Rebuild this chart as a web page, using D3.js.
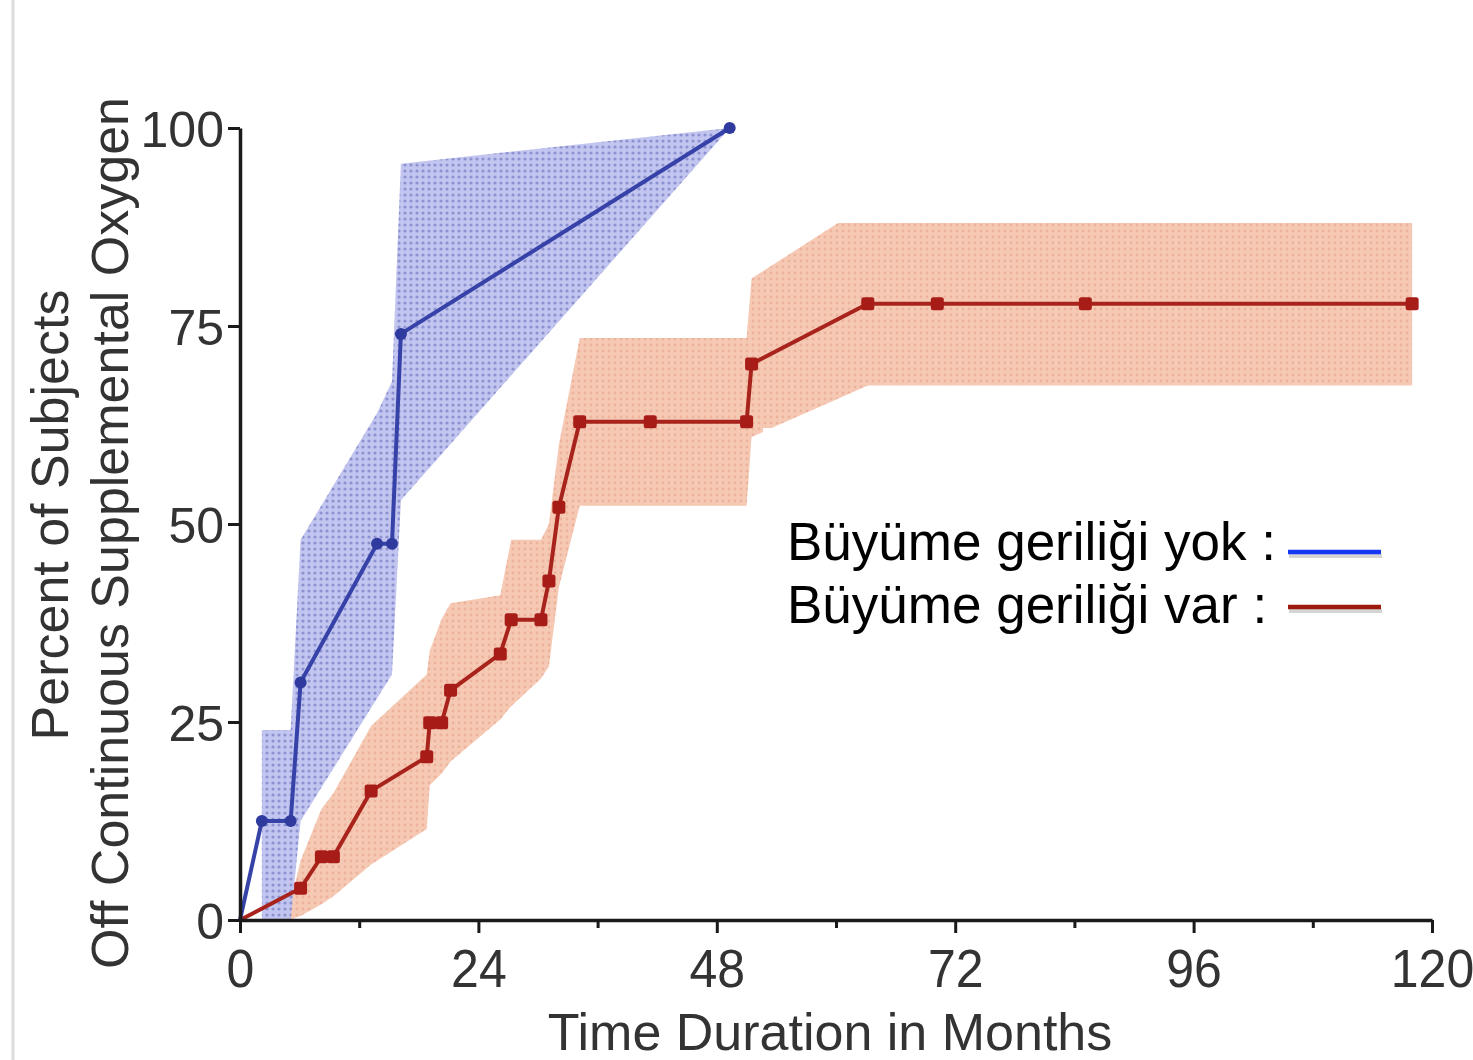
<!DOCTYPE html>
<html>
<head>
<meta charset="utf-8">
<script src="https://cdn.jsdelivr.net/npm/d3@7"></script>
<style>
  html, body { margin: 0; padding: 0; background: #fff; }
  svg { display: block; font-family: "Liberation Sans", Arial, sans-serif; }
</style>
</head>
<body>
<svg id="chart" width="1473" height="1060"></svg>
<script>
'use strict';

// series: no growth retardation (blue)
const blueMonths = [0, 2.2, 5.1, 6.1, 13.8, 15.3, 16.2, 49.3];
const bluePercent = [0, 12.5, 12.5, 30, 47.5, 47.5, 74, 100];
const blueBandMonths = [2.2, 5.1, 6.1, 13.8, 15.3, 16.2, 49.3];
const blueBandLower = [0, 0, 12.5, 28, 31, 53, 100];
const blueBandUpper = [24, 24, 48, 64, 68, 95.5, 100];

// series: growth retardation (red)
const redMonths = [0, 6.1, 8.2, 9.4, 13.2, 18.8, 19.1, 20.3, 21.2, 26.2, 27.3, 30.3,
  31.1, 32.1, 34.2, 41.3, 51.0, 51.5, 63.2, 70.2, 85.1, 118.0];
const redPercent = [0, 4, 8, 8, 16.3, 20.6, 24.9, 24.9, 29, 33.6, 37.9, 37.9,
  42.8, 52.1, 62.9, 62.9, 62.9, 70.2, 77.8, 77.8, 77.8, 77.8];
const redBandMonths = [4.8, 6.1, 8.2, 9.4, 13.2, 18.8, 19.1, 20.3, 21.2, 26.2, 27.3, 30.3,
  31.1, 32.1, 34.2, 51.0, 51.5, 60.2, 63.2, 118.0];
const redBandLower = [0, 0.5, 2, 3, 7, 11.5, 17, 18.5, 20, 25.3, 27, 30.5,
  32, 42, 52.3, 52.3, 61, 65.8, 67.5, 67.5];
const redBandUpper = [0.5, 7.5, 14, 16, 24.5, 31, 34, 38, 40, 41, 48, 48,
  50, 60, 73.5, 73.5, 81, 88, 88, 88];

const xTicks = [0, 24, 48, 72, 96, 120];
const xMinorTicks = [12, 36, 60, 84, 108];
const yTicks = [0, 25, 50, 75, 100];

const legendLabels = ['Büyüme geriliği yok :', 'Büyüme geriliği var :'];
const legendColors = ['#1538f5', '#9e1a0c'];

const svg = d3.select('#chart');

const x = d3.scaleLinear().domain([0, 120]).range([240, 1432]);
const y = d3.scaleLinear().domain([0, 100]).range([920, 128]);

// left grey page edge
svg.append('line')
  .attr('x1', 13).attr('x2', 13).attr('y1', 0).attr('y2', 1060)
  .attr('stroke', '#dcdcdc').attr('stroke-width', 3);

// dotted fill patterns for the bands
const defs = svg.append('defs');
function dotPattern(id, bg, dot, r) {
  const p = defs.append('pattern')
    .attr('id', id).attr('patternUnits', 'userSpaceOnUse')
    .attr('width', 6).attr('height', 6);
  p.append('rect').attr('width', 6).attr('height', 6).attr('fill', bg);
  p.append('circle').attr('cx', 3).attr('cy', 3).attr('r', r).attr('fill', dot);
}
dotPattern('blueDots', '#bfc2ee', '#868cce', 1.6);
dotPattern('redDots', '#f6c9b4', '#ecb29b', 1.4);

function band(months, lower, upper) {
  return months.map((m, i) => ({ m, lo: lower[i], hi: upper[i] }));
}
function series(months, pct) {
  return months.map((m, i) => ({ m, p: pct[i] }));
}

const area = d3.area()
  .x(d => x(d.m))
  .y0(d => y(d.lo))
  .y1(d => y(d.hi));

const line = d3.line()
  .x(d => x(d.m))
  .y(d => y(d.p));

svg.append('path')
  .datum(band(redBandMonths, redBandLower, redBandUpper))
  .attr('d', area)
  .attr('fill', 'url(#redDots)');

svg.append('path')
  .datum(band(blueBandMonths, blueBandLower, blueBandUpper))
  .attr('d', area)
  .attr('fill', 'url(#blueDots)')
  .attr('opacity', 0.95);

const redData = series(redMonths, redPercent);
const blueData = series(blueMonths, bluePercent);

svg.append('path')
  .datum(redData)
  .attr('d', line)
  .attr('fill', 'none')
  .attr('stroke', '#a8231c')
  .attr('stroke-width', 4);

svg.selectAll('rect.red-mark')
  .data(redData.slice(1))
  .enter().append('rect')
  .attr('class', 'red-mark')
  .attr('x', d => x(d.m) - 6.5)
  .attr('y', d => y(d.p) - 6.5)
  .attr('width', 13).attr('height', 13)
  .attr('rx', 2.5)
  .attr('fill', '#a81c18');

svg.append('path')
  .datum(blueData)
  .attr('d', line)
  .attr('fill', 'none')
  .attr('stroke', '#3642a8')
  .attr('stroke-width', 4);

svg.selectAll('circle.blue-mark')
  .data(blueData.slice(1))
  .enter().append('circle')
  .attr('class', 'blue-mark')
  .attr('cx', d => x(d.m))
  .attr('cy', d => y(d.p))
  .attr('r', 6)
  .attr('fill', '#2f3a9e');

// axes
const xAxis = svg.append('g')
  .attr('transform', 'translate(0,920)')
  .call(d3.axisBottom(x).tickValues(xTicks).tickSize(13).tickPadding(10).tickSizeOuter(0));

svg.append('g')
  .attr('transform', 'translate(0,920)')
  .call(d3.axisBottom(x).tickValues(xMinorTicks).tickSize(8).tickFormat('').tickSizeOuter(0))
  .call(g => g.select('.domain').remove())
  .selectAll('line').attr('stroke', '#1a1a1a').attr('stroke-width', 3);

const yAxis = svg.append('g')
  .attr('transform', 'translate(240,0)')
  .call(d3.axisLeft(y).tickValues(yTicks).tickSize(12).tickPadding(4).tickSizeOuter(0));

[xAxis, yAxis].forEach(g => {
  g.select('.domain').attr('stroke', '#1a1a1a').attr('stroke-width', 3.5);
  g.selectAll('.tick line').attr('stroke', '#1a1a1a').attr('stroke-width', 3);
  g.selectAll('.tick text')
    .attr('fill', '#333')
    .style('font-size', '50px')
    .style('font-family', '"Liberation Sans", Arial, sans-serif');
});
xAxis.selectAll('.tick text').attr('dy', '0.78em').attr('transform', 'scale(1,1.08)');
yAxis.selectAll('.tick text').attr('dy', '0.36em');

// axis titles
svg.append('text')
  .attr('x', 830).attr('y', 1050)
  .attr('text-anchor', 'middle')
  .attr('fill', '#333')
  .style('font-size', '52px')
  .text('Time Duration in Months');

const yTitle = svg.append('text')
  .attr('transform', 'rotate(-90)')
  .attr('text-anchor', 'middle')
  .attr('fill', '#333')
  .style('font-size', '52px');
yTitle.append('tspan').attr('x', -515).attr('y', 68).text('Percent of Subjects');
yTitle.append('tspan').attr('x', -533).attr('y', 128).text('Off Continuous Supplemental Oxygen');

// legend pasted on a white box
svg.append('rect')
  .attr('x', 763).attr('y', 428)
  .attr('width', 710).attr('height', 230)
  .attr('fill', '#fff');

const legendY = [552, 607];
const legend = svg.append('g');
legendLabels.forEach((label, i) => {
  legend.append('text')
    .attr('x', 787).attr('y', legendY[i] + 8 + i * 8)
    .attr('fill', '#000')
    .style('font-size', '53px')
    .text(label);
  legend.append('line')
    .attr('x1', 1289).attr('x2', 1382)
    .attr('y1', legendY[i] + 4).attr('y2', legendY[i] + 4)
    .attr('stroke', '#888').attr('stroke-opacity', 0.35)
    .attr('stroke-width', 4);
  legend.append('line')
    .attr('x1', 1288).attr('x2', 1381)
    .attr('y1', legendY[i]).attr('y2', legendY[i])
    .attr('stroke', legendColors[i])
    .attr('stroke-width', 4.5);
});
</script>
</body>
</html>
